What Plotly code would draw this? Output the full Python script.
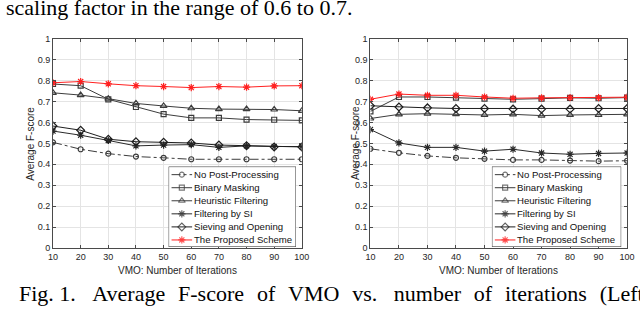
import plotly.graph_objects as go

# ---------------- data ----------------
iterations = [10, 20, 30, 40, 50, 60, 70, 80, 90, 100]
series_names = ["No Post-Processing", "Binary Masking", "Heuristic Filtering",
                "Filtering by SI", "Sieving and Opening", "The Proposed Scheme"]
y_ticks = [0, 0.1, 0.2, 0.3, 0.4, 0.5, 0.6, 0.7, 0.8, 0.9, 1]

left_no_post = [0.505, 0.472, 0.451, 0.437, 0.431, 0.424, 0.424, 0.424, 0.424, 0.424]
left_binary = [0.784, 0.776, 0.711, 0.674, 0.640, 0.622, 0.622, 0.614, 0.613, 0.610]
left_heuristic = [0.742, 0.731, 0.714, 0.691, 0.679, 0.668, 0.664, 0.664, 0.662, 0.656]
left_si = [0.559, 0.539, 0.514, 0.488, 0.492, 0.494, 0.481, 0.488, 0.485, 0.485]
left_sieving = [0.583, 0.563, 0.520, 0.508, 0.505, 0.502, 0.492, 0.489, 0.483, 0.483]
left_proposed = [0.790, 0.796, 0.785, 0.776, 0.772, 0.767, 0.772, 0.769, 0.775, 0.776]

right_no_post = [0.474, 0.455, 0.440, 0.431, 0.426, 0.421, 0.421, 0.418, 0.415, 0.417]
right_binary = [0.653, 0.722, 0.722, 0.719, 0.714, 0.711, 0.714, 0.718, 0.716, 0.719]
right_heuristic = [0.619, 0.639, 0.642, 0.640, 0.636, 0.639, 0.633, 0.636, 0.636, 0.639]
right_si = [0.566, 0.502, 0.481, 0.481, 0.463, 0.472, 0.454, 0.448, 0.452, 0.454]
right_sieving = [0.680, 0.674, 0.670, 0.667, 0.667, 0.664, 0.664, 0.664, 0.667, 0.667]
right_proposed = [0.711, 0.736, 0.730, 0.730, 0.722, 0.716, 0.718, 0.719, 0.719, 0.721]

x_title = "VMO: Number of Iterations"
y_title = "Average F-score"
top_text = "scaling factor in the range of 0.6 to 0.7."
caption_words = ["Fig. 1.", "Average", "F-score", "of", "VMO", "vs.", "number",
                 "of", "iterations", "(Left:"]

# ---------------- styles ----------------
W, H = 640, 310
DARK = "#3c3c3c"
styles = [
    dict(color=DARK, dash="dashdot", symbol="circle-open", size=5),
    dict(color=DARK, dash="solid", symbol="square-open", size=5),
    dict(color=DARK, dash="solid", symbol="triangle-up-open", size=6),
    dict(color="#2a2a2a", dash="solid", symbol="asterisk-open", size=6),
    dict(color="#1e1e1e", dash="solid", symbol="diamond-open", size=6),
    dict(color="#ff2020", dash="solid", symbol="asterisk-open", size=6),
]
SANS = "Liberation Sans, Arial, sans-serif"
SERIF = "Liberation Serif, Times New Roman, serif"
GAP = " \u2005\u200a"          # justified (wide) word spacing of the caption
SENT_GAP = " \u2002"           # wider gap after a sentence-ending period
caption = ""
for i, wd in enumerate(caption_words):
    if i:
        caption += SENT_GAP if caption_words[i - 1].endswith(".") else GAP
    caption += wd

def px_x(p):
    return p / W

def px_y(p):
    return 1 - p / H

fig = go.Figure()

panels = [
    ("x", "y", [left_no_post, left_binary, left_heuristic, left_si, left_sieving, left_proposed]),
    ("x2", "y2", [right_no_post, right_binary, right_heuristic, right_si, right_sieving, right_proposed]),
]
for xa, ya, data in panels:
    for name, vals, st in zip(series_names, data, styles):
        fig.add_trace(go.Scatter(
            x=iterations, y=vals, name=name, xaxis=xa, yaxis=ya, mode="lines+markers",
            line=dict(color=st["color"], width=1, dash=st["dash"]),
            marker=dict(symbol=st["symbol"], size=st["size"], color=st["color"],
                        line=dict(color=st["color"], width=1.2)),
            showlegend=False))

axis_common = dict(
    showline=True, mirror="ticks", linecolor="#4a4a4a", linewidth=1,
    ticks="inside", ticklen=3, tickcolor="#4a4a4a",
    showgrid=True, gridcolor="#e4e4e4", gridwidth=1, zeroline=False,
    tickfont=dict(family=SANS, size=9, color="#262626"),
    ticklabeloverflow="allow",
)
plot_top, plot_bot = 35, 251
layout = dict(
    width=W, height=H, margin=dict(l=0, r=0, t=0, b=0),
    paper_bgcolor="white", plot_bgcolor="white", showlegend=False,
    xaxis=dict(domain=[px_x(49), px_x(303)], range=[10, 100], tickvals=iterations,
               anchor="y", **axis_common),
    yaxis=dict(domain=[px_y(plot_bot), px_y(plot_top)], range=[0, 1], tickvals=y_ticks,
               ticktext=[f"{v:g}" for v in y_ticks], anchor="x", **axis_common),
    xaxis2=dict(domain=[px_x(373), px_x(635)], range=[10, 100], tickvals=iterations,
                anchor="y2", **axis_common),
    yaxis2=dict(domain=[px_y(plot_bot), px_y(plot_top)], range=[0, 1], tickvals=y_ticks,
                ticktext=[f"{v:g}" for v in y_ticks], anchor="x2", **axis_common),
)

# legend boxes drawn on overlay axes (pixel-like units inside the box)
legend_boxes = [("x3", "y3", 167, 297), ("x4", "y4", 497, 629)]
leg_top, leg_bot = 167, 250
row_y = [8.3, 21.8, 35.3, 48.8, 62.3, 75.8]
annotations = []
shapes = []
for xa, ya, lx0, lx1 in legend_boxes:
    w = lx1 - lx0
    h = leg_bot - leg_top
    n = xa[1:]
    layout["xaxis" + n] = dict(domain=[px_x(lx0), px_x(lx1)], range=[0, w], visible=False,
                               anchor=ya, fixedrange=True)
    layout["yaxis" + n] = dict(domain=[px_y(leg_bot), px_y(leg_top)], range=[h, 0],
                               visible=False, anchor=xa, fixedrange=True)
    shapes.append(dict(type="rect", xref=xa, yref=ya, x0=0, x1=w, y0=0, y1=h,
                       fillcolor="white", line=dict(color="#3a3a3a", width=1), layer="below"))
    for name, st, ry in zip(series_names, styles, row_y):
        fig.add_trace(go.Scatter(
            x=[3, 13.5, 24], y=[ry, ry, ry], xaxis=xa, yaxis=ya, mode="lines+markers",
            line=dict(color=st["color"], width=1, dash=st["dash"]),
            marker=dict(symbol=st["symbol"], size=[0, st["size"], 0], color=st["color"],
                        line=dict(color=st["color"], width=1.2)),
            showlegend=False, hoverinfo="skip"))
        annotations.append(dict(text=name, xref=xa, yref=ya, x=25, y=ry, xanchor="left",
                                yanchor="middle", showarrow=False, borderpad=0,
                                font=dict(family=SANS, size=9.6, color="#111")))

# axis titles
for cx, cy_x in [(176, 26), (504, 358)]:
    annotations.append(dict(text=x_title, xref="paper", yref="paper", x=px_x(cx), y=px_y(274.5),
                            xanchor="center", yanchor="middle", showarrow=False,
                            font=dict(family=SANS, size=10, color="#262626")))
    annotations.append(dict(text=y_title, xref="paper", yref="paper", x=px_x(cy_x),
                            y=px_y((plot_top + plot_bot) / 2), textangle=-90,
                            xanchor="center", yanchor="middle", showarrow=False,
                            font=dict(family=SANS, size=10, color="#262626")))

# surrounding paper text
annotations.append(dict(text=top_text, xref="paper", yref="paper", x=0, y=px_y(-11.5),
                        xanchor="left", yanchor="top", showarrow=False, borderpad=0,
                        font=dict(family=SERIF, size=22, color="black")))
annotations.append(dict(text=caption, xref="paper", yref="paper", x=px_x(13), y=px_y(284.5),
                        xanchor="left", yanchor="top", showarrow=False, borderpad=0,
                        font=dict(family=SERIF, size=22, color="black")))

layout["annotations"] = annotations
layout["shapes"] = shapes
fig.update_layout(**layout)
fig.write_html("out.html", config={"displayModeBar": False},
               post_script="document.body.style.margin='0';document.body.style.overflow='hidden';")
